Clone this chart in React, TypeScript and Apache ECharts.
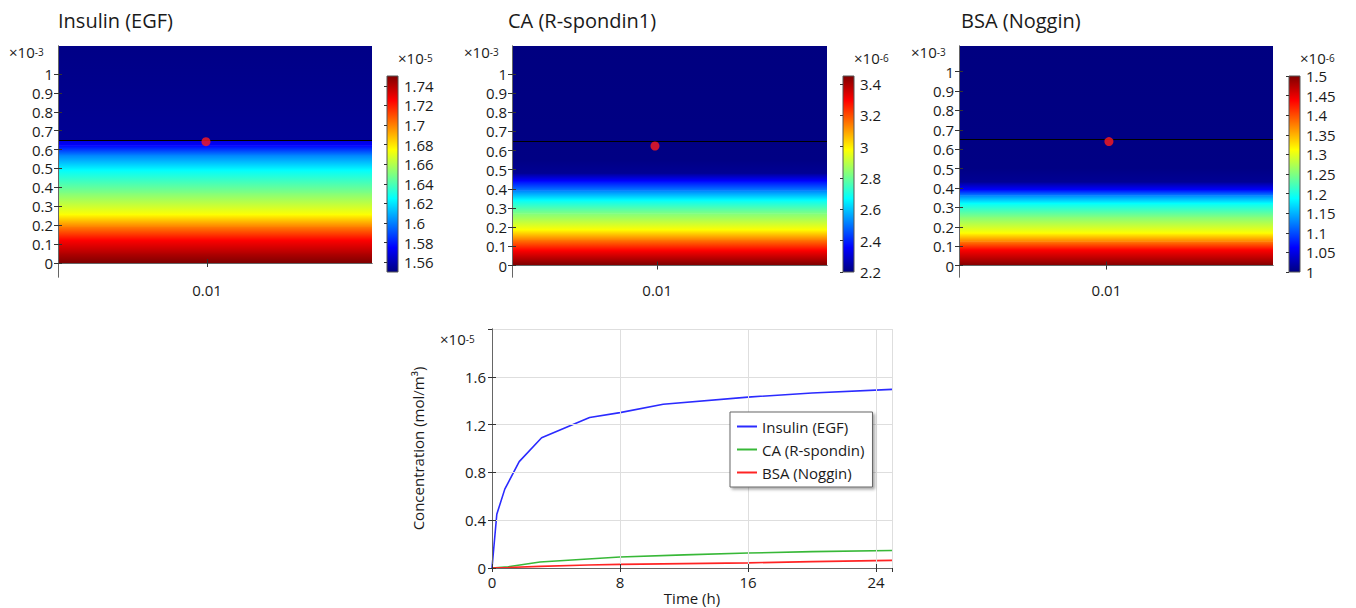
import React, { useEffect, useRef } from 'react';
import * as echarts from 'echarts';

const FONT = '"Open Sans", sans-serif';
const TXT = '#1a1a1a';

// ---------- data ----------
const panelTitles = ['Insulin (EGF)', 'CA (R-spondin1)', 'BSA (Noggin)'];
const heightTicks = [0, 0.1, 0.2, 0.3, 0.4, 0.5, 0.6, 0.7, 0.8, 0.9, 1];
const widthTicks = [0.01];

// vertical concentration profiles (height ×1e-3 m, concentration in colour-bar units)
const profileHeight1 = [0, 0.05, 0.12, 0.19, 0.254, 0.37, 0.49, 0.57, 0.62, 0.649, 0.651, 1.2];
const profileConc1 = [1.75, 1.74, 1.725, 1.7, 1.675, 1.65, 1.625, 1.6, 1.575, 1.568, 1.554, 1.551];
const profileHeight2 = [0, 0.013, 0.08, 0.133, 0.185, 0.27, 0.34, 0.39, 0.44, 0.48, 0.55, 1.2];
const profileConc2 = [3.45, 3.43, 3.29, 3.14, 2.98, 2.825, 2.67, 2.51, 2.36, 2.225, 2.205, 2.2];
const profileHeight3 = [0, 0.011, 0.08, 0.123, 0.166, 0.25, 0.32, 0.36, 0.39, 0.43, 0.5, 1.2];
const profileConc3 = [1.5, 1.49, 1.4375, 1.375, 1.3125, 1.25, 1.1875, 1.125, 1.0625, 1.01, 1.002, 1.0];

const colorbarMin = [1.55, 2.2, 1.0];
const colorbarMax = [1.75, 3.45, 1.5];
const colorbarTicks1 = [1.56, 1.58, 1.6, 1.62, 1.64, 1.66, 1.68, 1.7, 1.72, 1.74];
const colorbarTicks2 = [2.2, 2.4, 2.6, 2.8, 3.0, 3.2, 3.4];
const colorbarTicks3 = [1, 1.05, 1.1, 1.15, 1.2, 1.25, 1.3, 1.35, 1.4, 1.45, 1.5];
const colorbarExponent = ['-5', '-6', '-6'];

const probeX = [0.00993, 0.00985, 0.01017];
const probeY = [0.642, 0.624, 0.639];
const boundaryHeight = 0.65;

const heightMin = [-0.074, -0.06, -0.059];
const heightMax = [1.148, 1.146, 1.132];
const widthMax = [0.02107, 0.0217, 0.0213];

const seriesNames = ['Insulin (EGF)', 'CA (R-spondin)', 'BSA (Noggin)'];
const timeInsulin = [0, 0.3, 0.8, 1.7, 3.1, 6.1, 8, 10.7, 16, 20, 25];
const concInsulin = [0, 0.45, 0.66, 0.89, 1.09, 1.26, 1.3, 1.37, 1.43, 1.465, 1.495];
const timeCA = [0, 1, 3, 6, 8, 12, 16, 20, 25];
const concCA = [0, 0.01, 0.05, 0.075, 0.092, 0.11, 0.125, 0.137, 0.147];
const timeBSA = [0, 1, 3, 6, 8, 12, 16, 20, 25];
const concBSA = [0, 0.004, 0.014, 0.025, 0.03, 0.037, 0.043, 0.053, 0.064];

// ---------- styling ----------
const JET: [number, number[]][] = [
  [0, [0, 0, 128]],
  [0.125, [0, 0, 255]],
  [0.375, [0, 255, 255]],
  [0.625, [255, 255, 0]],
  [0.875, [255, 0, 0]],
  [1, [128, 0, 0]],
];
function jet(t: number) {
  t = Math.max(0, Math.min(1, t));
  for (let i = 1; i < JET.length; i++) {
    if (t <= JET[i][0]) {
      const [t0, c0] = JET[i - 1];
      const [t1, c1] = JET[i];
      const f = (t - t0) / (t1 - t0);
      return `rgb(${c0.map((c, k) => Math.round(c + (c1[k] - c) * f)).join(',')})`;
    }
  }
  return 'rgb(128,0,0)';
}
function jetStops(tTop: number, tBot: number) {
  const stops: { offset: number; color: string }[] = [{ offset: 0, color: jet(tTop) }];
  if (Math.abs(tBot - tTop) > 1e-9) {
    const lo = Math.min(tTop, tBot), hi = Math.max(tTop, tBot);
    const inner = JET.map((s) => s[0]).filter((b) => b > lo && b < hi);
    inner.sort((a, b) => (tBot > tTop ? a - b : b - a));
    inner.forEach((b) => stops.push({ offset: (b - tTop) / (tBot - tTop), color: jet(b) }));
  }
  stops.push({ offset: 1, color: jet(tBot) });
  return stops;
}

const panelGrids = [
  { left: 58, top: 46, width: 314, height: 231 },
  { left: 512, top: 46, width: 315, height: 231 },
  { left: 959, top: 46, width: 314, height: 231 },
];
const barGrids = [
  { left: 387, top: 76, width: 11, height: 196 },
  { left: 843, top: 76, width: 11, height: 196 },
  { left: 1289, top: 76, width: 11, height: 196 },
];
const lineGrid = { left: 492, top: 329, width: 400, height: 239 };
const titleX = [58, 508, 961];
const axisExpX = [9, 464, 911];
const barExpX = [398, 854, 1300];

const fmt = (v: number) => String(parseFloat(Number(v).toFixed(4)));

function expText(x: number, y: number, e: string) {
  return {
    type: 'text',
    x,
    y,
    z: 30,
    style: {
      text: `{a|×10}{b|${e}}`,
      verticalAlign: 'middle',
      rich: {
        a: { fontSize: 15, fontFamily: FONT, fill: TXT, verticalAlign: 'bottom', lineHeight: 16, height: 16 },
        b: { fontSize: 10, fontFamily: FONT, fill: TXT, verticalAlign: 'top', lineHeight: 16, height: 16 },
      },
    },
  };
}

export default function App() {
  const ref = useRef<HTMLDivElement>(null);
  useEffect(() => {
    if (!ref.current) return;
    const chart = echarts.init(ref.current, undefined, { renderer: 'svg' });

    const profiles = [
      [profileHeight1, profileConc1],
      [profileHeight2, profileConc2],
      [profileHeight3, profileConc3],
    ];
    const barTicks = [colorbarTicks1, colorbarTicks2, colorbarTicks3];

    const grid: any[] = [...panelGrids, ...barGrids, lineGrid].map((g) => ({ ...g, containLabel: false }));
    const xAxis: any[] = [];
    const yAxis: any[] = [];
    const series: any[] = [];
    const tickStyle = { show: true, inside: true, length: 4, lineStyle: { color: '#333', width: 1 } };
    const axisLine = { show: true, lineStyle: { color: '#666', width: 1 } };
    const labelStyle = { color: TXT, fontFamily: FONT, fontSize: 15 };

    for (let i = 0; i < 3; i++) {
      xAxis.push({
        type: 'value', gridIndex: i, min: 0, max: widthMax[i], position: 'bottom', z: 10,
        axisLine, splitLine: { show: false },
        axisTick: { ...tickStyle, customValues: widthTicks },
        axisLabel: { ...labelStyle, margin: 5, customValues: widthTicks, formatter: fmt },
      });
      xAxis.push({
        type: 'value', gridIndex: i, min: 0, max: widthMax[i], position: 'top', z: 10,
        axisLine, splitLine: { show: false },
        axisTick: { ...tickStyle, customValues: widthTicks },
        axisLabel: { show: false },
      });
      yAxis.push({
        type: 'value', gridIndex: i, min: heightMin[i], max: heightMax[i], position: 'left', z: 10,
        axisLine, splitLine: { show: false },
        axisTick: { ...tickStyle, customValues: heightTicks },
        axisLabel: { ...labelStyle, margin: 5, customValues: heightTicks, formatter: fmt },
      });
      yAxis.push({
        type: 'value', gridIndex: i, min: heightMin[i], max: heightMax[i], position: 'right', z: 10,
        axisLine, splitLine: { show: false },
        axisTick: { ...tickStyle, customValues: heightTicks },
        axisLabel: { show: false },
      });
    }
    for (let i = 0; i < 3; i++) {
      xAxis.push({ type: 'value', gridIndex: 3 + i, min: 0, max: 1, show: false });
      yAxis.push({
        type: 'value', gridIndex: 3 + i, min: colorbarMin[i], max: colorbarMax[i], position: 'right', z: 10,
        axisLine: { show: false }, splitLine: { show: false },
        axisTick: { show: true, inside: true, length: 3, lineStyle: { color: '#333' }, customValues: barTicks[i] },
        axisLabel: { ...labelStyle, margin: 6, customValues: barTicks[i], formatter: fmt },
      });
    }
    // line chart axes
    xAxis.push({
      type: 'value', gridIndex: 6, min: 0, max: 25, interval: 8, position: 'bottom', z: 10,
      name: 'Time (h)', nameLocation: 'middle', nameGap: 22,
      nameTextStyle: { color: TXT, fontFamily: FONT, fontSize: 15 },
      axisLine, axisTick: tickStyle,
      splitLine: { show: true, lineStyle: { color: '#dedede', width: 1 } },
      axisLabel: { ...labelStyle, fontSize: 15, margin: 6, showMaxLabel: false },
    });
    xAxis.push({
      type: 'value', gridIndex: 6, min: 0, max: 25, interval: 8, position: 'top', z: 10,
      axisLine, axisTick: tickStyle, splitLine: { show: false }, axisLabel: { show: false },
    });
    yAxis.push({
      type: 'value', gridIndex: 6, min: 0, max: 2, interval: 0.4, position: 'left', z: 10,
      name: 'Concentration (mol/m³)', nameLocation: 'middle', nameGap: 67, nameRotate: 90,
      nameTextStyle: { color: TXT, fontFamily: FONT, fontSize: 15 },
      axisLine, axisTick: tickStyle,
      splitLine: { show: true, lineStyle: { color: '#dedede', width: 1 } },
      axisLabel: { ...labelStyle, fontSize: 15, margin: 6, showMaxLabel: false, formatter: fmt },
    });
    yAxis.push({
      type: 'value', gridIndex: 6, min: 0, max: 2, interval: 0.4, position: 'right', z: 10,
      axisLine, axisTick: tickStyle, splitLine: { show: false }, axisLabel: { show: false },
    });

    for (let i = 0; i < 3; i++) {
      const [hs, cs] = profiles[i];
      const lo = colorbarMin[i], hi = colorbarMax[i];
      const bands: number[][] = [];
      for (let k = 0; k + 1 < hs.length; k++) bands.push([hs[k], hs[k + 1], cs[k], cs[k + 1]]);
      series.push({
        type: 'custom', xAxisIndex: 2 * i, yAxisIndex: 2 * i, clip: true, silent: true, z: 1,
        encode: { y: [0, 1] },
        data: bands,
        renderItem: (params: any, api: any) => {
          const h0 = api.value(0), h1 = api.value(1), c0 = api.value(2), c1 = api.value(3);
          const yTop = api.coord([0, h1])[1];
          const yBot = api.coord([0, h0])[1];
          const csys = params.coordSys;
          return {
            type: 'rect',
            shape: { x: csys.x, y: yTop - 0.5, width: csys.width, height: yBot - yTop + 0.5 },
            style: {
              fill: new echarts.graphic.LinearGradient(0, 0, 0, 1, jetStops((c1 - lo) / (hi - lo), (c0 - lo) / (hi - lo))),
              stroke: null,
            },
          };
        },
      });
      // domain boundary line
      series.push({
        type: 'custom', xAxisIndex: 2 * i, yAxisIndex: 2 * i, silent: true, z: 3,
        encode: { x: 0, y: 1 },
        data: [[0, boundaryHeight]],
        renderItem: (params: any, api: any) => {
          const y = Math.round(api.coord([0, api.value(1)])[1]) + 0.5;
          const csys = params.coordSys;
          return {
            type: 'line',
            shape: { x1: csys.x, y1: y, x2: csys.x + csys.width, y2: y },
            style: { stroke: '#000', lineWidth: 1 },
          };
        },
      });
      series.push({
        type: 'scatter', xAxisIndex: 2 * i, yAxisIndex: 2 * i, symbolSize: 9, silent: true, z: 4,
        data: [[probeX[i], probeY[i]]],
        itemStyle: { color: '#ff1a1a' },
      });
      // colour bar
      series.push({
        type: 'custom', xAxisIndex: 6 + i, yAxisIndex: 6 + i, silent: true,
        data: [[0, colorbarMin[i], colorbarMax[i]]],
        encode: { x: 0, y: [1, 2] },
        renderItem: (params: any, api: any) => {
          const yTop = api.coord([0, api.value(2)])[1];
          const yBot = api.coord([0, api.value(1)])[1];
          const csys = params.coordSys;
          return {
            type: 'rect',
            shape: { x: csys.x, y: yTop, width: csys.width, height: yBot - yTop },
            style: {
              fill: new echarts.graphic.LinearGradient(0, 0, 0, 1, jetStops(1, 0)),
              stroke: '#555', lineWidth: 1,
            },
          };
        },
      });
    }

    const lineColors = ['#2b2bff', '#38b838', '#ff2424'];
    const lineData = [
      timeInsulin.map((t, k) => [t, concInsulin[k]]),
      timeCA.map((t, k) => [t, concCA[k]]),
      timeBSA.map((t, k) => [t, concBSA[k]]),
    ];
    for (let s = 0; s < 3; s++) {
      series.push({
        type: 'line', name: seriesNames[s], xAxisIndex: 9, yAxisIndex: 9, symbol: 'none', silent: true,
        data: lineData[s], lineStyle: { color: lineColors[s], width: 1.6 }, itemStyle: { color: lineColors[s] }, z: 3,
      });
    }

    const graphic: any[] = [];
    for (let i = 0; i < 3; i++) {
      graphic.push({
        type: 'text', x: titleX[i], y: 20,
        style: { text: panelTitles[i], fontFamily: FONT, fontSize: 20, fill: TXT, verticalAlign: 'middle' },
      });
      graphic.push(expText(axisExpX[i], 52, '-3'));
      graphic.push(expText(barExpX[i], 58, colorbarExponent[i]));
    }
    graphic.push(expText(440, 339, '-5'));

    chart.setOption({
      animation: false,
      backgroundColor: '#ffffff',
      grid,
      xAxis,
      yAxis,
      series,
      graphic,
      legend: {
        data: seriesNames,
        orient: 'vertical',
        left: 730,
        top: 412,
        z: 30,
        icon: 'rect',
        itemWidth: 20,
        itemHeight: 2,
        itemGap: 8,
        padding: [7, 8, 7, 7],
        borderColor: '#666',
        borderWidth: 1,
        backgroundColor: '#fff',
        shadowColor: 'rgba(0,0,0,0.35)',
        shadowBlur: 3,
        shadowOffsetX: 2,
        shadowOffsetY: 2,
        selectedMode: false,
        textStyle: { color: TXT, fontFamily: FONT, fontSize: 15 },
      },
    });
    return () => chart.dispose();
  }, []);
  return <div ref={ref} style={{ position: 'absolute', left: 0, top: 0, width: 1356, height: 608 }} />;
}
